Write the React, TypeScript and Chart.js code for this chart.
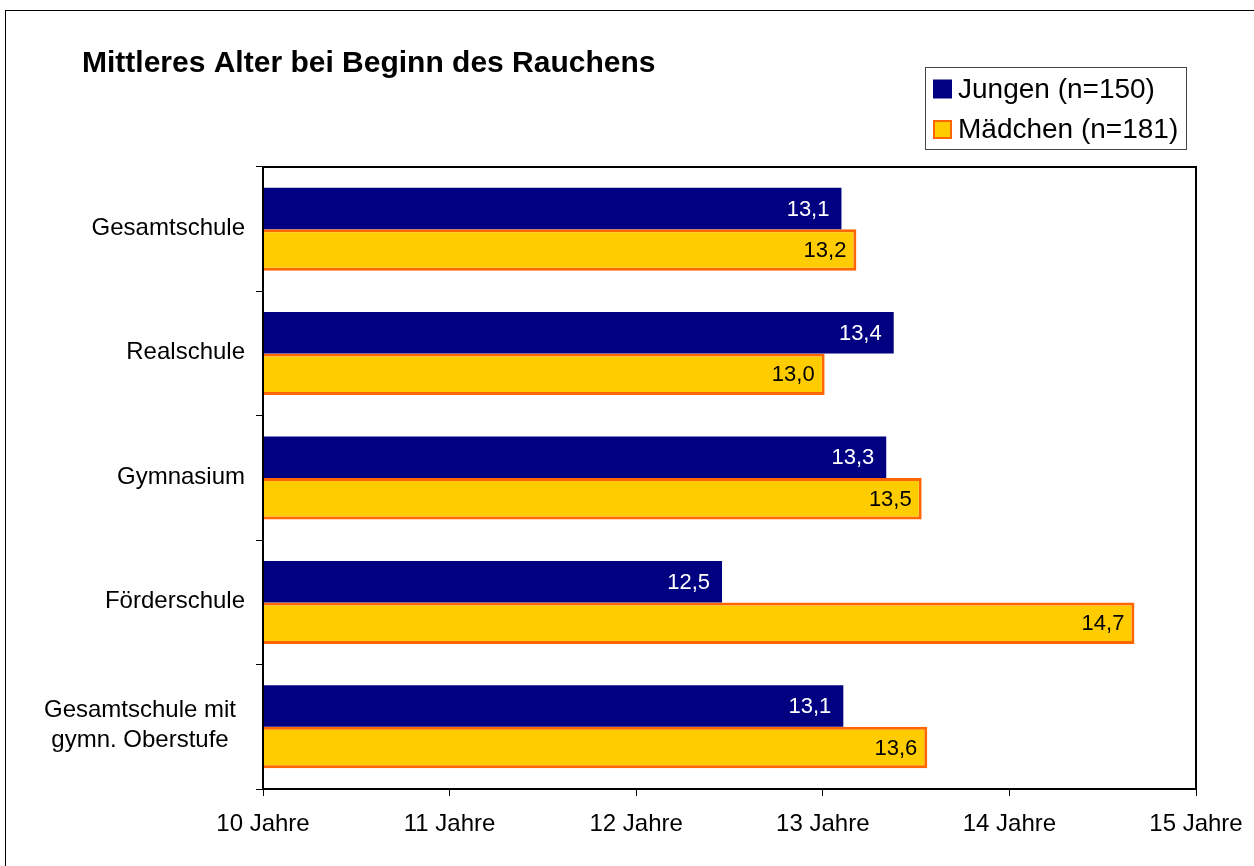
import React, { useEffect, useRef } from "react";
import { Chart, registerables } from "chart.js";

Chart.register(...registerables);

const categories: (string | string[])[] = [
  "Gesamtschule",
  "Realschule",
  "Gymnasium",
  "Förderschule",
  ["Gesamtschule mit", "gymn. Oberstufe"],
];
const jungen = [13.1, 13.38, 13.34, 12.46, 13.11];
const maedchen = [13.18, 13.01, 13.53, 14.67, 13.56];
const seriesNames = ["Jungen (n=150)", "Mädchen (n=181)"];
const xTickValues = [10, 11, 12, 13, 14, 15];
const titleText = "Mittleres Alter bei Beginn des Rauchens";

const FONT = "'Liberation Sans', Arial, Helvetica, sans-serif";
const NAVY = "#000080";
const YELLOW = "#FFCC00";
const ORANGE = "#FF6600";

const decorPlugin = {
  id: "decor",
  afterDraw(chart: any) {
    const ctx = chart.ctx;
    const ca = chart.chartArea;
    ctx.save();
    // outer frame
    ctx.strokeStyle = "#000";
    ctx.lineWidth = 1;
    ctx.strokeRect(5.5, 10.5, 1400, 1000);
    // plot frame
    ctx.lineWidth = 2;
    ctx.strokeRect(ca.left, ca.top, ca.right - ca.left, ca.bottom - ca.top);
    // title
    ctx.fillStyle = "#000";
    ctx.font = `bold 30px ${FONT}`;
    ctx.textAlign = "left";
    ctx.textBaseline = "alphabetic";
    ctx.fillText(titleText, 82, 72);
    // y category labels
    const yScale = chart.scales.y;
    ctx.font = `24px ${FONT}`;
    ctx.textBaseline = "middle";
    chart.data.labels.forEach((lab: any, i: number) => {
      const cy = yScale.getPixelForValue(i) - 1;
      if (Array.isArray(lab)) {
        ctx.textAlign = "center";
        const lh = 30;
        const start = cy - ((lab.length - 1) * lh) / 2;
        lab.forEach((ln: string, k: number) => {
          ctx.fillText(ln, 140, start + k * lh);
        });
      } else {
        ctx.textAlign = "right";
        ctx.fillText(lab, 245, cy);
      }
    });
    // legend
    ctx.lineWidth = 1;
    ctx.strokeStyle = "#444";
    ctx.strokeRect(925.5, 67.5, 261, 82);
    const ds = chart.data.datasets;
    const rows = [89, 129.5];
    ds.forEach((d: any, i: number) => {
      const cy = rows[i];
      ctx.fillStyle = d.backgroundColor;
      ctx.fillRect(933, cy - 9.5, 19, 19);
      if (d.borderWidth) {
        ctx.strokeStyle = d.borderColor;
        ctx.lineWidth = 2;
        ctx.strokeRect(934, cy - 8.5, 17, 17);
      }
      ctx.fillStyle = "#000";
      ctx.font = `28px ${FONT}`;
      ctx.textAlign = "left";
      ctx.textBaseline = "middle";
      ctx.fillText(d.label, 958, cy + 1);
    });
    // data labels
    ctx.font = `22px ${FONT}`;
    ctx.textAlign = "right";
    ctx.textBaseline = "middle";
    ds.forEach((d: any, i: number) => {
      const meta = chart.getDatasetMeta(i);
      meta.data.forEach((el: any, j: number) => {
        const v = d.data[j] as number;
        const txt = v.toFixed(1).replace(".", ",");
        ctx.fillStyle = i === 0 ? "#fff" : "#000";
        ctx.fillText(txt, el.x - (i === 0 ? 12 : 10), el.y + 1);
      });
    });
    ctx.restore();
  },
};

export default function App() {
  const ref = useRef<HTMLCanvasElement | null>(null);
  useEffect(() => {
    document.body.style.margin = "0";
    const canvas = ref.current!;
    const chart = new Chart(canvas, {
      type: "bar",
      data: {
        labels: categories as any,
        datasets: [
          {
            label: seriesNames[0],
            data: jungen,
            backgroundColor: NAVY,
            borderWidth: 0,
            categoryPercentage: 0.667,
            barPercentage: 1,
          },
          {
            label: seriesNames[1],
            data: maedchen,
            backgroundColor: YELLOW,
            borderColor: ORANGE,
            borderWidth: 3,
            borderSkipped: false,
            categoryPercentage: 0.667,
            barPercentage: 1,
          },
        ],
      },
      options: {
        indexAxis: "y",
        responsive: false,
        animation: false,
        devicePixelRatio: 1,
        layout: { padding: { left: 0, top: 167, right: 58, bottom: 0 } },
        plugins: {
          legend: { display: false },
          title: { display: false },
          tooltip: { enabled: false },
        },
        scales: {
          x: {
            type: "linear",
            min: 10,
            max: 15,
            afterBuildTicks: (scale: any) => {
              scale.ticks = xTickValues.map((v) => ({ value: v }));
            },
            afterFit: (scale: any) => {
              scale.height = 866 - 789;
              scale.paddingLeft = 0;
              scale.paddingRight = 0;
            },
            ticks: {
              color: "#000",
              font: { family: FONT, size: 24 },
              padding: 14,
              maxRotation: 0,
              callback: (v: any) => `${v} Jahre`,
            },
            grid: {
              display: true,
              drawOnChartArea: false,
              drawTicks: true,
              tickLength: 7,
              color: "#000",
              lineWidth: 1,
            },
            border: { display: true, color: "#000", width: 2 },
          },
          y: {
            type: "category",
            afterFit: (scale: any) => {
              scale.width = 263;
              scale.paddingTop = 0;
              scale.paddingBottom = 0;
            },
            ticks: { display: false },
            grid: {
              display: true,
              offset: true,
              drawOnChartArea: false,
              drawTicks: true,
              tickLength: 7,
              color: "#000",
              lineWidth: 1,
            },
            border: { display: true, color: "#000", width: 2 },
          },
        },
      },
      plugins: [decorPlugin],
    } as any);
    return () => chart.destroy();
  }, []);
  return (
    <div style={{ position: "absolute", left: 0, top: 0, width: 1254, height: 866, background: "#fff" }}>
      <canvas ref={ref} width={1254} height={866} />
    </div>
  );
}
